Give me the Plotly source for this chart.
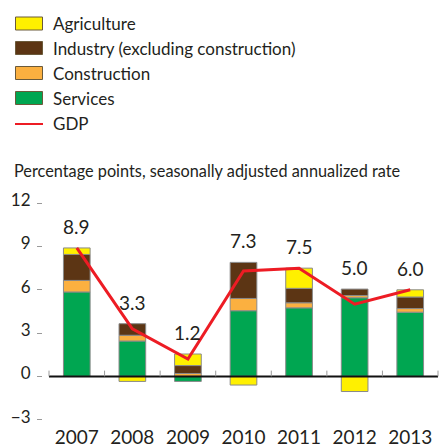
import plotly.graph_objects as go

# Contributions to GDP growth, percentage points
years = ["2007", "2008", "2009", "2010", "2011", "2012", "2013"]
services = [5.85, 2.45, -0.35, 4.55, 4.75, 5.45, 4.45]
construction = [0.80, 0.40, 0.20, 0.85, 0.35, 0.15, 0.25]
industry = [1.80, 0.80, 0.55, 2.50, 1.00, 0.45, 0.80]
agriculture = [0.45, -0.35, 0.80, -0.60, 1.40, -1.05, 0.50]
gdp = [8.9, 3.3, 1.2, 7.3, 7.5, 5.0, 6.0]

y_ticks = [-3, 0, 3, 6, 9, 12]
y_tick_text = ["\u22123", "0", "3", "6", "9", "12"]

legend_labels = ["Agriculture", "Industry (excluding construction)",
                 "Construction", "Services", "GDP"]
subtitle = "Percentage points, seasonally adjusted annualized rate"

C_AGR = "#FFF000"
C_IND = "#5C3514"
C_CON = "#FBB040"
C_SER = "#00A651"
C_GDP = "#ED1C24"
TXT = "#231F20"
FONT = "Lato"

W, H = 445, 447
ML, MR, MT, MB = 43, 0, 196, 23
PW, PH = W - ML - MR, H - MT - MB


def px_x(px):
    return (px - ML) / PW


def px_y(py):
    return (H - MB - py) / PH


fig = go.Figure()
bar_line = dict(color="#8a8a8a", width=1)
for name, vals, col in [("Services", services, C_SER),
                        ("Construction", construction, C_CON),
                        ("Industry (excluding construction)", industry, C_IND),
                        ("Agriculture", agriculture, C_AGR)]:
    fig.add_trace(go.Bar(x=years, y=vals, name=name,
                         marker=dict(color=col, line=bar_line),
                         showlegend=False))

fig.add_trace(go.Scatter(x=years, y=gdp, mode="lines", name="GDP",
                         line=dict(color=C_GDP, width=3), showlegend=False))

# value labels above the positive part of each stack
annotations = []
for i, yr in enumerate(years):
    top = sum(v for v in (services[i], construction[i], industry[i], agriculture[i]) if v > 0)
    annotations.append(dict(x=i, y=top, xref="x", yref="y", text=f"{gdp[i]:.1f}",
                            showarrow=False, yanchor="bottom", yshift=8,
                            font=dict(family=FONT, size=19, color=TXT)))

# subtitle
annotations.append(dict(x=px_x(12), y=px_y(170), xref="paper", yref="paper",
                        text=subtitle, showarrow=False, xanchor="left", yanchor="middle",
                        font=dict(family=FONT, size=16.3, color=TXT)))

# legend drawn as swatches + labels
shapes = []
legend_cols = [C_AGR, C_IND, C_CON, C_SER, C_GDP]
legend_y = [23.5, 48, 73, 98, 124]
for lab, col, cy in zip(legend_labels, legend_cols, legend_y):
    if lab == "GDP":
        shapes.append(dict(type="line", xref="paper", yref="paper",
                           x0=px_x(15), x1=px_x(43), y0=px_y(cy), y1=px_y(cy),
                           line=dict(color=col, width=2)))
    else:
        shapes.append(dict(type="rect", xref="paper", yref="paper",
                           x0=px_x(15.5), x1=px_x(42.5), y0=px_y(cy + 6.5), y1=px_y(cy - 6.5),
                           fillcolor=col, line=dict(color="#6b5a3a", width=1)))
    annotations.append(dict(x=px_x(51), y=px_y(cy), xref="paper", yref="paper",
                            text=lab, showarrow=False, xanchor="left", yanchor="middle",
                            font=dict(family=FONT, size=17, color=TXT)))

# zero line and category boundary ticks
shapes.append(dict(type="line", xref="x", yref="y", x0=-0.5, x1=6.5, y0=0, y1=0,
                   line=dict(color="#111111", width=2), layer="above"))
for i in range(len(years) + 1):
    shapes.append(dict(type="line", xref="x", yref="y", x0=i - 0.5, x1=i - 0.5,
                       y0=0, y1=0.4, line=dict(color="#9a9a9a", width=1)))

fig.update_layout(
    width=W, height=H,
    margin=dict(l=ML, r=MR, t=MT, b=MB),
    paper_bgcolor="white", plot_bgcolor="white",
    barmode="relative", bargap=0.52,
    font=dict(family=FONT, color=TXT),
    shapes=shapes, annotations=annotations,
    xaxis=dict(type="category", categoryarray=years, range=[-0.608, 6.626],
               showgrid=False, showline=False, zeroline=False, ticks="",
               automargin=False,
               tickfont=dict(family=FONT, size=19, color=TXT)),
    yaxis=dict(range=[-3.3, 12.5], tickvals=y_ticks, ticktext=y_tick_text,
               showgrid=False, zeroline=False, showline=False,
               ticks="outside", ticklen=5, tickcolor="#9a9a9a", tickwidth=1,
               ticklabelstandoff=3, ticklabelshift=-3, automargin=False,
               tickfont=dict(family=FONT, size=17, color=TXT)),
)

fig.write_html("out.html")
